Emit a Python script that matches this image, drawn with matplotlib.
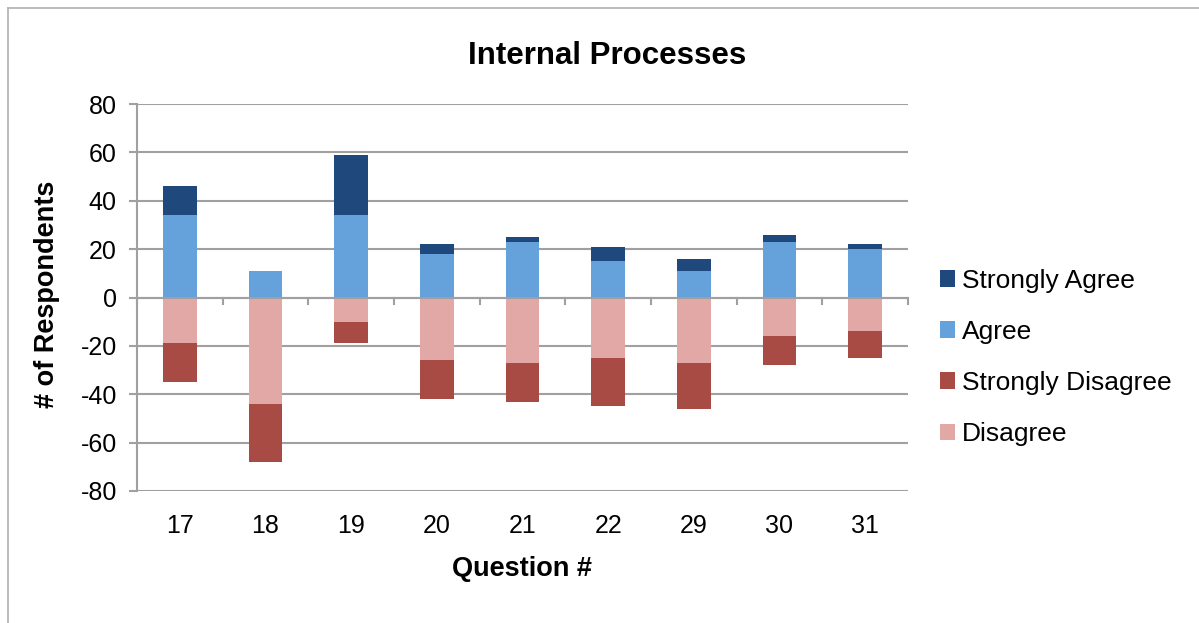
import numpy as np
import matplotlib
matplotlib.use("Agg")
import matplotlib.pyplot as plt
from matplotlib.lines import Line2D

plt.rcParams['font.family'] = ['Liberation Sans', 'DejaVu Sans']
plt.rcParams['axes.unicode_minus'] = False

questions         = ['17', '18', '19', '20', '21', '22', '29', '30', '31']
strongly_agree    = [12, 0, 25, 4, 2, 6, 5, 3, 2]
agree             = [34, 11, 34, 18, 23, 15, 11, 23, 20]
disagree          = [19, 44, 10, 26, 27, 25, 27, 16, 14]
strongly_disagree = [16, 24, 9, 16, 16, 20, 19, 12, 11]

c_sa   = '#1F497D'
c_a    = '#65A1DB'
c_sd   = '#A84B45'
c_d    = '#E2A8A6'
grid_c = '#A0A0A0'

x = np.arange(len(questions))
w = 0.39
sa = np.array(strongly_agree)
ag = np.array(agree)
di = -np.array(disagree)
sd = -np.array(strongly_disagree)

W, H = 1199, 623
fig = plt.figure(figsize=(W / 100, H / 100), dpi=100)
ax = fig.add_axes([137 / W, (H - 491) / H, (908 - 137) / W, (491 - 104) / H])

ax.bar(x, ag, w, color=c_a, label='Agree', zorder=3)
ax.bar(x, sa, w, bottom=ag, color=c_sa, label='Strongly Agree', zorder=3)
ax.bar(x, di, w, color=c_d, label='Disagree', zorder=3)
ax.bar(x, sd, w, bottom=di, color=c_sd, label='Strongly Disagree', zorder=3)

ax.set_xlim(-0.5, len(questions) - 0.5)
ax.set_ylim(-80, 80)
ax.set_yticks(np.arange(-80, 81, 20))
ax.yaxis.grid(True, color=grid_c, linewidth=1.5, zorder=0)
ax.tick_params(axis='y', length=5.5, width=1.5, color=grid_c, labelsize=18, pad=9)

ax.set_xticks(x)
ax.set_xticklabels(questions)
ax.tick_params(axis='x', length=0, labelsize=18, pad=16.5)

for s in ['top', 'right', 'bottom']:
    ax.spines[s].set_visible(False)
ax.spines['left'].set_color(grid_c)
ax.spines['left'].set_linewidth(1.5)

# category axis drawn at zero, tick marks between categories
ax.axhline(0, color=grid_c, linewidth=1.5, zorder=4)
for b in np.arange(-0.5, len(questions), 1.0):
    ax.add_line(Line2D([b, b], [0, -2.6], color=grid_c, linewidth=1.5, zorder=4,
                       clip_on=False))

fig.text(607 / W, 1 - 56 / H, 'Internal Processes', fontsize=22.5, fontweight='bold',
         ha='center', va='center')
ax.set_xlabel('Question #', fontsize=19.5, fontweight='bold', va='center')
ax.xaxis.set_label_coords(0.5, -(569 - 491) / 387)
ax.set_ylabel('# of Respondents', fontsize=19.5, fontweight='bold', va='center')
ax.yaxis.set_label_coords(-(137 - 47) / 771, (491 - 294) / 387)

handles, labels = ax.get_legend_handles_labels()
order = [1, 0, 3, 2]
fig.legend([handles[i] for i in order], [labels[i] for i in order],
           loc='center left', bbox_to_anchor=(929 / W, 1 - 357.5 / H),
           frameon=False, fontsize=19, handlelength=0.6, handleheight=0.6,
           handletextpad=0.25, labelspacing=1.03, borderaxespad=0)

# outer chart frame
fig.add_artist(Line2D([8 / W, 8 / W], [0, 1 - 8 / H], color='#B0B0B0',
                      linewidth=1.2, transform=fig.transFigure))
fig.add_artist(Line2D([8 / W, 1], [1 - 8 / H, 1 - 8 / H], color='#B0B0B0',
                      linewidth=1.2, transform=fig.transFigure))

fig.savefig('out.png', dpi=100)
